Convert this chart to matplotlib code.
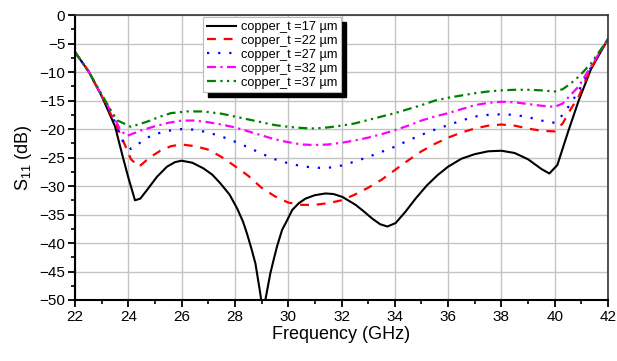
import matplotlib.pyplot as plt
from matplotlib.ticker import MultipleLocator

plt.rcParams['font.family'] = ['Liberation Sans', 'DejaVu Sans']
plt.rcParams['mathtext.default'] = 'regular'

# values (frequency in GHz, S11 in dB)
f_17 = [22, 22.5, 23, 23.5, 23.8, 24.0, 24.25, 24.45, 24.7, 25.07, 25.45, 25.75, 26.0, 26.4,
        26.82, 27.15, 27.45, 27.8, 28.08, 28.3, 28.45, 28.62, 28.77, 28.95, 29.05, 29.15, 29.33,
        29.45, 29.58, 29.77, 29.96, 30.15, 30.4, 30.65, 31.0, 31.4, 31.7, 32.03, 32.53, 32.85,
        33.15, 33.45, 33.72, 34.03, 34.4, 34.78, 35.2, 35.6, 36.0, 36.5, 37.0, 37.5, 38.0, 38.5,
        39.0, 39.5, 39.8, 40.1, 40.5, 40.9, 41.36, 42]
s_17 = [-6.5, -9.8, -14.2, -19.5, -25.0, -28.5, -32.5, -32.2, -30.7, -28.4, -26.6, -25.8, -25.55, -25.9,
        -26.9, -28.0, -29.5, -31.5, -33.9, -36.2, -38.3, -41.0, -43.6, -48.8, -52.3, -49.8, -45.3,
        -43.0, -40.6, -37.7, -36.0, -34.2, -33.0, -32.2, -31.6, -31.3, -31.4, -31.9, -33.3, -34.5,
        -35.7, -36.7, -37.1, -36.5, -34.5, -32.2, -29.9, -28.1, -26.6, -25.2, -24.4, -23.9, -23.8, -24.2,
        -25.3, -27.0, -27.8, -26.3, -20.5, -15.0, -9.5, -4.2]

f_22 = [22, 22.5, 23, 23.5, 23.8, 24.1, 24.4, 24.8, 25.2, 25.6, 26.0, 26.5, 27.0, 27.5, 28.0, 28.5,
        29.0, 29.5, 30.0, 30.5, 31.0, 31.5, 32.0, 32.5, 33.0, 33.5, 34.0, 34.5, 35.0, 35.5, 36.0,
        36.5, 37.0, 37.5, 38.0, 38.5, 39.0, 39.5, 40.0, 40.3, 40.6, 40.9, 41.36, 42]
s_22 = [-6.5, -9.8, -14.2, -18.8, -22.0, -25.3, -26.6, -25.0, -23.8, -23.0, -22.7, -23.0, -23.6, -24.9,
        -26.5, -28.2, -30.3, -31.8, -32.9, -33.3, -33.3, -33.0, -32.5, -31.5, -30.3, -28.9, -27.2,
        -25.5, -23.9, -22.6, -21.5, -20.6, -19.9, -19.4, -19.2, -19.4, -19.9, -20.3, -20.4, -19.0,
        -16.5, -14.3, -9.3, -4.2]

f_27 = [22, 22.5, 23, 23.4, 23.75, 24.1, 24.5, 24.9, 25.5, 26.0, 26.5, 27.0, 27.5, 28.0, 28.5, 29.0,
        29.5, 30.0, 30.5, 31.0, 31.5, 32.0, 32.5, 33.0, 33.5, 34.0, 34.5, 35.0, 35.5, 36.0, 36.5,
        37.0, 37.5, 38.0, 38.5, 39.0, 39.5, 40.0, 40.3, 40.6, 40.9, 41.36, 42]
s_27 = [-6.5, -9.8, -14.2, -17.6, -21.9, -23.5, -22.2, -21.0, -20.3, -20.0, -20.1, -20.6, -21.3, -22.2,
        -23.2, -24.3, -25.3, -26.0, -26.5, -26.8, -26.8, -26.4, -25.7, -24.9, -24.0, -23.1, -22.0,
        -21.0, -20.1, -19.3, -18.5, -17.8, -17.5, -17.4, -17.5, -17.9, -18.5, -18.9, -17.5, -15.5,
        -13.3, -9.2, -4.2]

f_32 = [22, 22.5, 23, 23.4, 23.7, 23.95, 24.5, 25.0, 25.5, 26.0, 26.5, 27.0, 27.5, 28.0, 28.5, 29.0,
        29.5, 30.0, 30.5, 31.0, 31.5, 32.0, 32.5, 33.0, 33.5, 34.0, 34.5, 35.0, 35.5, 36.0, 36.5,
        37.0, 37.5, 38.0, 38.5, 39.0, 39.5, 40.0, 40.3, 40.6, 40.9, 41.36, 42]
s_32 = [-6.5, -9.8, -14.1, -17.3, -20.2, -21.2, -20.2, -19.5, -18.9, -18.5, -18.5, -18.8, -19.2, -19.7,
        -20.4, -21.1, -21.8, -22.3, -22.7, -22.8, -22.7, -22.4, -22.0, -21.5, -20.9, -20.2, -19.4,
        -18.5, -17.8, -17.2, -16.5, -15.8, -15.4, -15.2, -15.3, -15.6, -15.9, -16.1, -15.5, -14.0,
        -12.5, -9.0, -4.2]

f_37 = [22, 22.5, 23, 23.38, 23.6, 24.1, 24.7, 25.2, 25.6, 26.2, 26.8, 27.5, 28.0, 28.5, 29.0, 29.5,
        30.0, 30.5, 31.0, 31.5, 32.0, 32.5, 33.0, 33.5, 34.0, 34.5, 35.0, 35.5, 36.0, 36.5, 37.0,
        37.5, 38.0, 38.5, 39.0, 39.5, 40.0, 40.3, 40.6, 40.9, 41.36, 42]
s_37 = [-6.5, -9.8, -13.9, -17.0, -18.5, -19.6, -18.7, -17.8, -17.2, -16.9, -16.9, -17.3, -17.8, -18.3,
        -18.8, -19.3, -19.6, -19.8, -19.9, -19.7, -19.4, -19.0, -18.4, -17.8, -17.2, -16.5, -15.8,
        -15.0, -14.5, -14.1, -13.7, -13.4, -13.2, -13.1, -13.1, -13.2, -13.4, -13.0, -12.0, -10.8,
        -8.5, -4.2]

labels = ['copper_t =17 µm', 'copper_t =22 µm', 'copper_t =27 µm',
          'copper_t =32 µm', 'copper_t =37 µm']

fig = plt.figure(figsize=(6.17, 3.61), dpi=100)
ax = fig.add_axes([0.1216, 0.169, 0.8638, 0.789])

lines = []
lines += ax.plot(f_17, s_17, color='black', lw=1.5, label=labels[0])
lines += ax.plot(f_22, s_22, color='#ff0000', lw=1.6, ls=(0, (4, 3.5)), label=labels[1])
lines += ax.plot(f_27, s_27, color='#0000ff', lw=1.6, ls=(0, (1, 4)), label=labels[2])
lines += ax.plot(f_32, s_32, color='#ff00ff', lw=1.6, ls=(0, (4, 2, 1, 2)), label=labels[3])
lines += ax.plot(f_37, s_37, color='#008000', lw=1.6, ls=(0, (4, 2, 1, 2, 1, 2)), label=labels[4])

ax.set_xlim(22, 42)
ax.set_ylim(-50, 0)
ax.xaxis.set_major_locator(MultipleLocator(2))
ax.xaxis.set_minor_locator(MultipleLocator(1))
ax.yaxis.set_major_locator(MultipleLocator(5))
ax.yaxis.set_minor_locator(MultipleLocator(2.5))
ax.grid(True, which='major', color='#c4c4c4', lw=1.0)
ax.set_axisbelow(True)

ax.tick_params(which='major', direction='out', length=5, width=1.3, labelsize=11, pad=2)
ax.tick_params(which='minor', direction='out', length=3, width=1.2)
for side in ['left', 'bottom']:
    ax.spines[side].set_linewidth(1.5)
for side in ['top', 'right']:
    ax.spines[side].set_linewidth(1.2)
    ax.spines[side].set_color('#333333')

ax.set_xlabel('Frequency (GHz)', fontsize=13, labelpad=2)
ax.set_ylabel('S$_{11}$ (dB)', fontsize=13, labelpad=4)

leg_kw = dict(loc='upper left', borderaxespad=0, fontsize=9.2, fancybox=False,
              framealpha=1, labelspacing=0.15, handlelength=2.3, handletextpad=0.35,
              borderpad=0.3)
anchor = (0.240, 0.993)
dx = 5 / (617 * 0.8638)
dy = 5 / (361 * 0.789)

# black copy of the legend, shifted down-right, acts as the drop shadow
shadow_leg = ax.legend(lines, labels, bbox_to_anchor=(anchor[0] + dx, anchor[1] - dy),
                       facecolor='black', edgecolor='black', **leg_kw)
for t in shadow_leg.get_texts():
    t.set_visible(False)
for h in shadow_leg.legend_handles:
    h.set_visible(False)
shadow_leg.set_zorder(4)
ax.add_artist(shadow_leg)

leg = ax.legend(lines, labels, bbox_to_anchor=anchor, facecolor='white',
                edgecolor='#bbbbbb', **leg_kw)
leg.get_frame().set_linewidth(0.8)
leg.set_zorder(5)

fig.savefig('out.png', dpi=100)
